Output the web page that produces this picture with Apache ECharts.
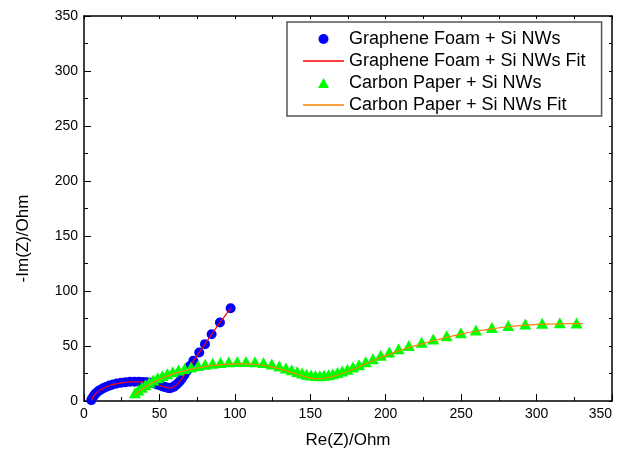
<!DOCTYPE html>
<html>
<head>
<meta charset="utf-8">
<script src="https://cdn.jsdelivr.net/npm/echarts@6/dist/echarts.min.js"></script>
<style>
  html, body { margin: 0; padding: 0; background: #fff; }
  #chart { width: 617px; height: 454px; }
</style>
</head>
<body>
<div id="chart"></div>
<script>
// Nyquist plot: impedance spectra of Si nanowire anodes on two current collectors

// Graphene Foam + Si NWs, measured points (Re(Z), -Im(Z)) in Ohm
const gfRe = [4.8, 5.6, 6.6, 7.8, 9.2, 10.8, 12.6, 14.6, 16.8, 19.2, 21.8, 24.6, 27.5, 30.5, 33.5,
  36.4, 39.2, 41.8, 44.2, 46.4, 48.4, 50.2, 51.8, 53.3, 54.7, 56.0, 57.2, 58.4, 59.6, 60.8,
  62.1, 63.5, 65.0, 66.6, 68.3, 70.2, 72.5, 76.4, 80.2, 84.6, 90.1, 97.2];
const gfIm = [0.8, 2.8, 4.9, 6.9, 8.6, 10.1, 11.5, 12.8, 14.0, 15.0, 15.9, 16.6, 17.1, 17.5, 17.6,
  17.5, 17.3, 17.0, 16.5, 15.9, 15.1, 14.3, 13.5, 12.8, 12.2, 11.9, 11.9, 12.3, 13.1, 14.3,
  15.9, 18.0, 20.6, 23.8, 27.5, 31.8, 36.5, 44.1, 51.7, 60.7, 71.3, 84.3];

// Graphene Foam + Si NWs, equivalent-circuit fit
const gfFitRe = [5.0, 5.6, 6.6, 7.8, 9.2, 10.8, 12.6, 14.6, 16.8, 19.2, 21.8, 24.6, 27.5, 30.5, 33.5,
  36.4, 39.2, 41.8, 44.2, 46.4, 48.4, 50.2, 51.8, 53.3, 54.7, 56.0, 57.2, 58.4, 59.6, 60.8,
  62.1, 63.5, 65.0, 66.6, 68.3, 70.2, 72.5, 76.4, 80.2, 84.6, 90.1, 97.2];
const gfFitIm = [0.3, 2.6, 4.8, 6.8, 8.5, 10.0, 11.4, 12.7, 13.9, 14.9, 15.8, 16.5, 17.0, 17.4, 17.5,
  17.4, 17.2, 16.9, 16.4, 15.8, 15.0, 14.2, 13.4, 12.7, 12.1, 11.8, 11.8, 12.2, 13.0, 14.2,
  15.8, 17.9, 20.5, 23.7, 27.4, 31.7, 36.4, 44.0, 51.6, 60.6, 71.2, 84.2];

// Carbon Paper + Si NWs, measured points
const cpRe = [33.8, 36.0, 38.3, 40.7, 43.2, 45.9, 48.8, 51.9, 55.2, 58.8, 62.6, 66.7, 71.0, 75.6,
  80.3, 85.3, 90.5, 96.0, 101.6, 107.4, 113.3, 119.0, 124.5, 129.4, 133.8, 137.7, 141.3, 144.6,
  147.6, 150.5, 153.4, 156.3, 159.2, 162.1, 165.0, 168.0, 171.2, 174.6, 178.3, 182.3, 186.7,
  191.5, 196.7, 202.4, 208.5, 215.3, 223.8, 231.5, 240.4, 249.8, 259.8, 270.4, 281.2, 292.5,
  303.7, 315.4, 326.5];
const cpIm = [7.5, 10.0, 12.5, 14.8, 17.0, 19.1, 21.1, 23.0, 24.8, 26.5, 28.1, 29.6, 31.0, 32.3,
  33.4, 34.4, 35.1, 35.6, 35.9, 36.0, 35.7, 34.9, 33.6, 31.9, 30.1, 28.4, 26.9, 25.5,
  24.4, 23.6, 23.1, 23.0, 23.3, 23.9, 24.8, 25.9, 27.2, 28.8, 30.8, 33.0, 35.6,
  38.5, 41.5, 44.5, 47.5, 50.5, 53.4, 56.3, 59.3, 62.1, 64.6, 66.8, 68.6, 69.9,
  70.7, 71.1, 71.0];

// Carbon Paper + Si NWs, equivalent-circuit fit
const cpFitRe = [33.8, 36.0, 38.3, 40.7, 43.2, 45.9, 48.8, 51.9, 55.2, 58.8, 62.6, 66.7, 71.0, 75.6,
  80.3, 85.3, 90.5, 96.0, 101.6, 107.4, 113.3, 119.0, 124.5, 129.4, 133.8, 137.7, 141.3, 144.6,
  147.6, 150.5, 153.4, 156.3, 159.2, 162.1, 165.0, 168.0, 171.2, 174.6, 178.3, 182.3, 186.7,
  191.5, 196.7, 202.4, 208.5, 215.3, 223.8, 231.5, 240.4, 249.8, 259.8, 270.4, 281.2, 292.5,
  303.7, 315.4, 326.5, 330.5];
const cpFitIm = [5.5, 8.0, 10.4, 12.7, 14.9, 17.0, 19.0, 20.9, 22.7, 24.4, 26.0, 27.5, 28.9, 30.2,
  31.3, 32.3, 33.0, 33.5, 33.8, 33.8, 33.4, 32.5, 31.1, 29.4, 27.6, 25.9, 24.3, 22.9,
  21.7, 20.8, 20.3, 20.3, 20.7, 21.4, 22.4, 23.6, 25.0, 26.8, 28.9, 31.2, 33.8,
  36.6, 39.5, 42.5, 45.6, 48.6, 51.8, 54.8, 57.9, 60.8, 63.4, 65.6, 67.5, 68.9,
  69.8, 70.2, 70.3, 70.3];

// Axis ticks
const axisMin = 0;
const axisMax = 350;
const majorStep = 50;
const frameStep = 25;

const seriesNames = [
  'Graphene Foam + Si NWs',
  'Graphene Foam + Si NWs Fit',
  'Carbon Paper + Si NWs',
  'Carbon Paper + Si NWs Fit'
];

const COLORS = { gf: '#0000ff', gfFit: '#ff0000', cp: '#00ff00', cpFit: '#ff8000' };

const pairs = (xs, ys) => xs.map((x, i) => [x, ys[i]]);
const FONT = '"Liberation Sans", Arial, sans-serif';

// legend glyphs: a thin stroke for fits, an upright triangle for carbon paper
const LINE_ICON = 'path://M0,0 H41 V1.3 H0 Z';
const TRI_ICON = 'path://M5.5,0 L11,10 L0,10 Z';

const mainAxis = (extra) => Object.assign({
  type: 'value',
  min: axisMin,
  max: axisMax,
  interval: majorStep,
  axisLine: { show: true, onZero: false, lineStyle: { color: '#000', width: 1.5 } },
  axisTick: { show: true, inside: true, length: 7, lineStyle: { color: '#000', width: 1 } },
  minorTick: { show: true, splitNumber: 2, length: 4, lineStyle: { color: '#000', width: 1 } },
  axisLabel: { show: true, color: '#000', fontSize: 14, fontFamily: FONT },
  splitLine: { show: false },
  nameLocation: 'middle',
  nameTextStyle: { color: '#000', fontSize: 17, fontFamily: FONT }
}, extra);

const frameAxis = (extra) => Object.assign({
  type: 'value',
  min: axisMin,
  max: axisMax,
  interval: frameStep,
  axisLine: { show: true, onZero: false, lineStyle: { color: '#000', width: 1.5 } },
  axisTick: { show: true, inside: true, length: 3, lineStyle: { color: '#000', width: 1 } },
  axisLabel: { show: false },
  splitLine: { show: false }
}, extra);

const chart = echarts.init(document.getElementById('chart'), null, { renderer: 'canvas' });

chart.setOption({
  animation: false,
  backgroundColor: '#fff',
  textStyle: { fontFamily: FONT },
  grid: { left: 84, right: 5, top: 16, bottom: 52, containLabel: false },
  xAxis: [
    mainAxis({
      position: 'bottom',
      name: 'Re(Z)/Ohm',
      nameGap: 31,
      axisLabel: { show: true, color: '#000', fontSize: 14, fontFamily: FONT, margin: 6, alignMaxLabel: 'right' }
    }),
    frameAxis({ position: 'top' })
  ],
  yAxis: [
    mainAxis({
      position: 'left',
      name: '-Im(Z)/Ohm',
      nameGap: 52,
      nameTextStyle: { color: '#000', fontSize: 17, fontFamily: FONT, padding: [0, 60, 0, 0] },
      axisLabel: { show: true, color: '#000', fontSize: 14, fontFamily: FONT, margin: 6 }
    }),
    frameAxis({ position: 'right' })
  ],
  legend: {
    orient: 'vertical',
    left: 287,
    top: 22,
    padding: [8, 16, 2, 16],
    itemGap: 4,
    itemWidth: 41,
    itemHeight: 10,
    symbolKeepAspect: true,
    borderColor: '#555',
    borderWidth: 1.5,
    backgroundColor: '#fff',
    textStyle: { color: '#000', fontSize: 18, lineHeight: 18, fontFamily: FONT },
    data: [
      { name: seriesNames[0], icon: 'circle', itemStyle: { color: COLORS.gf } },
      { name: seriesNames[1], icon: LINE_ICON, itemStyle: { color: COLORS.gfFit, borderWidth: 0 } },
      { name: seriesNames[2], icon: TRI_ICON, itemStyle: { color: COLORS.cp } },
      { name: seriesNames[3], icon: LINE_ICON, itemStyle: { color: COLORS.cpFit, borderWidth: 0 } }
    ]
  },
  series: [
    {
      name: seriesNames[0],
      type: 'scatter',
      symbol: 'circle',
      symbolSize: 10,
      itemStyle: { color: COLORS.gf, opacity: 1 },
      data: pairs(gfRe, gfIm),
      z: 2
    },
    {
      name: seriesNames[1],
      type: 'line',
      symbol: 'none',
      smooth: 0.3,
      lineStyle: { color: COLORS.gfFit, width: 1.2 },
      itemStyle: { color: COLORS.gfFit },
      data: pairs(gfFitRe, gfFitIm),
      z: 3
    },
    {
      name: seriesNames[2],
      type: 'scatter',
      symbol: 'triangle',
      symbolSize: [12, 11],
      itemStyle: { color: COLORS.cp, opacity: 1 },
      data: pairs(cpRe, cpIm),
      z: 4
    },
    {
      name: seriesNames[3],
      type: 'line',
      symbol: 'none',
      smooth: 0.3,
      lineStyle: { color: COLORS.cpFit, width: 1.2 },
      itemStyle: { color: COLORS.cpFit },
      data: pairs(cpFitRe, cpFitIm),
      z: 5
    }
  ]
});
</script>
</body>
</html>
